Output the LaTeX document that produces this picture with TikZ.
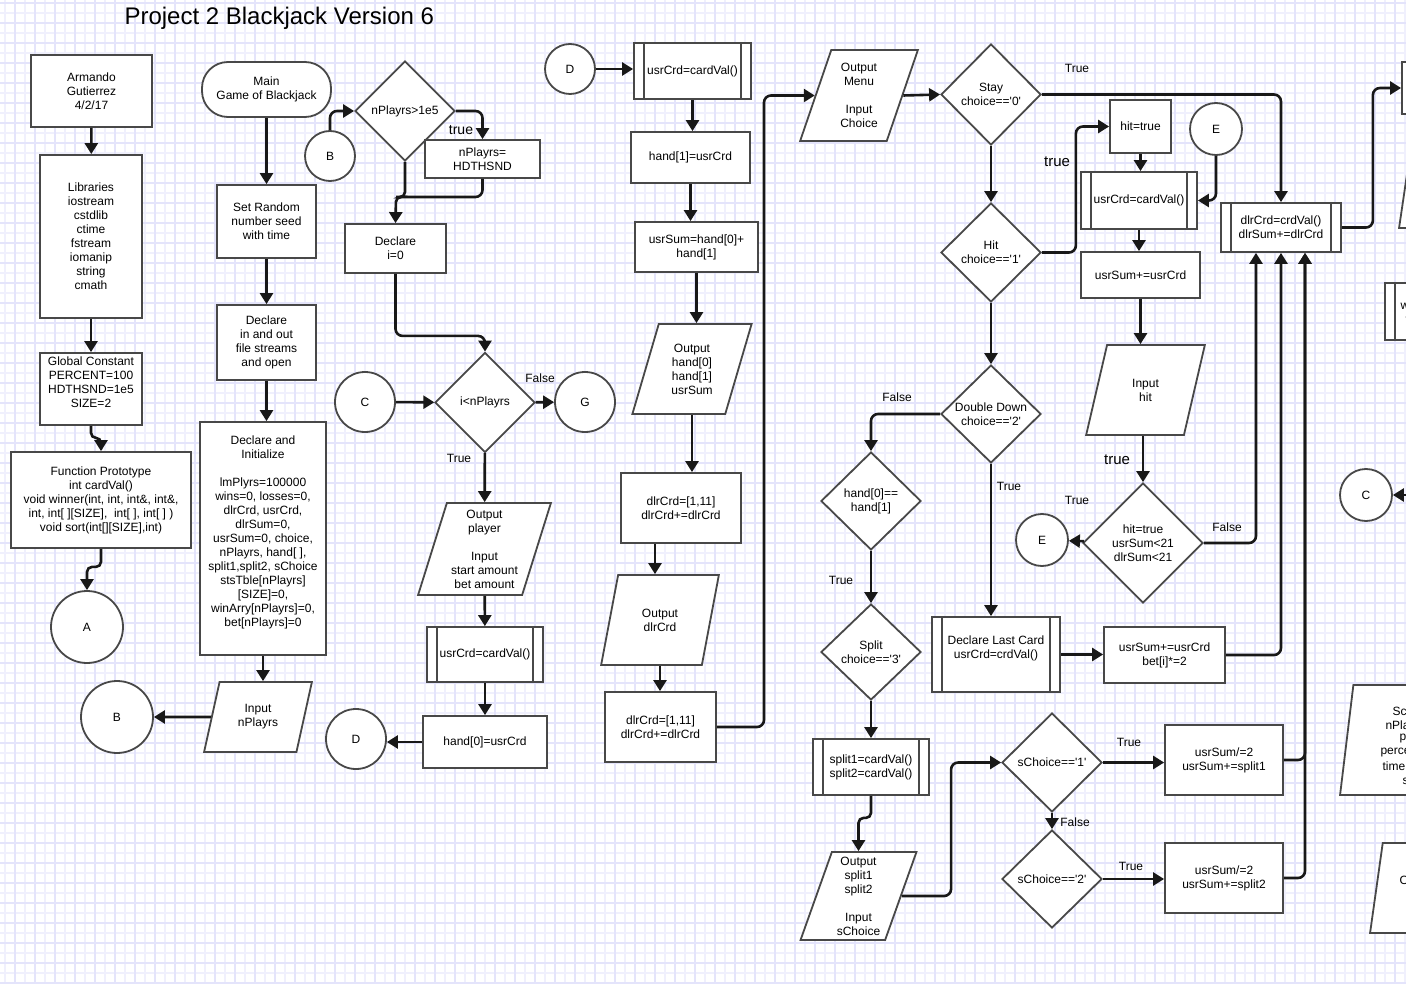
\documentclass[tikz,border=0pt]{standalone}
\usepackage{fontspec}
\setmainfont{Liberation Sans}
\usetikzlibrary{shapes.geometric,arrows.meta,calc}

\definecolor{gridc}{RGB}{228,228,251}
\definecolor{gridl}{RGB}{240,240,253}
\definecolor{edgec}{RGB}{72,72,72}
\definecolor{linec}{RGB}{24,24,24}
\newcommand{\sqt}{\textquotesingle}

\tikzset{
  every node/.style={font=\fontsize{12}{14}\selectfont, text=black},
  sz/.style 2 args={minimum width=#1pt, minimum height=#2pt},
  proc/.style={rectangle, draw=edgec, line width=1.8pt, fill=white, align=center, inner sep=0pt},
  subproc/.style={proc, path picture={
      \draw[edgec, line width=1.5pt]
        ([xshift=10pt]path picture bounding box.north west) -- ([xshift=10pt]path picture bounding box.south west)
        ([xshift=-10pt]path picture bounding box.north east) -- ([xshift=-10pt]path picture bounding box.south east);}},
  term/.style={proc, rounded corners=26pt},
  io/.style={trapezium, trapezium left angle=72, trapezium right angle=108, trapezium stretches=true,
      draw=edgec, line width=1.8pt, fill=white, align=center, inner sep=0pt},
  decision/.style={diamond, draw=edgec, line width=1.8pt, fill=white, align=center, inner sep=0pt},
  connector/.style={circle, draw=edgec, line width=1.8pt, fill=white, inner sep=0pt},
  flow/.style={draw=linec, line width=2.6pt, rounded corners=7pt},
  arr/.style={flow, -{Triangle[width=13pt,length=11pt]}},
  lab/.style={font=\fontsize{12}{14}\selectfont},
  biglab/.style={font=\fontsize{15}{17}\selectfont},
}

\begin{document}
\begin{tikzpicture}[x=1pt,y=-1pt]
\useasboundingbox (0,0) rectangle (1406,984);
\clip (0,0) rectangle (1406,984);
\fill[white] (0,0) rectangle (1406,984);
% background grid: faint lines every 10, slightly stronger every 20
\foreach \i in {5,25,...,1405} \draw[gridl, line width=1.3pt] (\i,0) -- (\i,984);
\foreach \j in {13,33,...,993} \draw[gridl, line width=1.3pt] (0,\j) -- (1406,\j);
\foreach \i in {15,35,...,1415} \draw[gridc, line width=1.3pt] (\i,0) -- (\i,984);
\foreach \j in {3,23,...,983} \draw[gridc, line width=1.3pt] (0,\j) -- (1406,\j);

\node[font=\fontsize{24}{28}\selectfont, anchor=west] (title) at (121,18) {Project 2 Blackjack Version 6};

% ---- program header column
\node[proc, sz={121}{72}] (armando) at (91.5,91) {Armando\\Gutierrez\\4/2/17};
\node[proc, sz={102}{163}] (libs) at (91,236.5) {Libraries\\iostream\\cstdlib\\ctime\\fstream\\iomanip\\string\\cmath};
\node[proc, sz={102}{72}] (glob) at (91,389) {Global Constant\\PERCENT=100\\HDTHSND=1e5\\SIZE=2\\\mbox{}};
\node[proc, sz={180}{96}] (proto) at (101,500) {Function Prototype\\int cardVal()\\void winner(int, int, int\&, int\&,\\int, int[ ][SIZE],~ int[ ], int[ ] )\\void sort(int[][SIZE],int)};
\node[connector, minimum size=72pt] (cA) at (87,627) {A};

% ---- main setup column
\node[term, sz={129}{55}] (mainT) at (266.5,89.5) {Main\\Game of Blackjack};
\node[proc, sz={99}{73}] (seed) at (266.5,221.5) {Set Random\\number seed\\with time};
\node[proc, sz={99}{75}] (streams) at (266.5,342.5) {Declare\\in and out\\file streams\\and open};
\node[proc, sz={126}{233}] (init) at (263,538.5) {Declare and\\Initialize\\[14pt]lmPlyrs=100000\\wins=0, losses=0,\\dlrCrd, usrCrd,\\dlrSum=0,\\usrSum=0, choice,\\nPlayrs, hand[ ],\\split1,split2, sChoice\\stsTble[nPlayrs]\\{}[SIZE]=0,\\winArry[nPlayrs]=0,\\bet[nPlayrs]=0\\\mbox{}};
\node[io, sz={108}{70}] (inNP) at (258,717) {Input\\nPlayrs};
\node[connector, minimum size=72pt] (cB1) at (117,717) {B};

% ---- player loop
\node[connector, minimum size=50pt] (cB2) at (330,156) {B};
\node[decision, sz={100}{100}] (dNP) at (405,111) {nPlayrs>1e5};
\node[proc, sz={115}{38}] (npBox) at (482.5,159) {nPlayrs=\\HDTHSND};
\node[proc, sz={101}{49}] (decl0) at (395.5,248.5) {Declare\\i=0};
\node[decision, sz={100}{100}] (dI) at (485,402.5) {i<nPlayrs};
\node[connector, minimum size=60pt] (cC1) at (365,402) {C};
\node[connector, minimum size=60pt] (cG) at (585,402) {G};
\node[io, sz={133}{92}] (outPl) at (484.5,549) {Output\\player\\[14pt]Input\\start amount\\bet amount};
\node[subproc, sz={116}{55}] (sub1) at (485,654.5) {usrCrd=cardVal()};
\node[proc, sz={124}{52}] (h0) at (485,742) {hand[0]=usrCrd};
\node[connector, minimum size=60pt] (cD1) at (356,739) {D};

% ---- dealing column
\node[connector, minimum size=50pt] (cD2) at (570,69) {D};
\node[subproc, sz={117}{56}] (sub2) at (692.5,71) {usrCrd=cardVal()};
\node[proc, sz={119}{51}] (h1) at (690.5,157.5) {hand[1]=usrCrd};
\node[proc, sz={123}{50}] (usum) at (696.5,247) {usrSum=hand[0]+\\hand[1]};
\node[io, sz={120}{90}] (outH) at (692,369) {Output\\hand[0]\\hand[1]\\usrSum};
\node[proc, sz={120}{70}] (dlr1) at (681,508) {dlrCrd=[1,11]\\dlrCrd+=dlrCrd};
\node[io, sz={118}{90}] (outD) at (660,620) {Output\\dlrCrd};
\node[proc, sz={111}{70}] (dlr2) at (660.5,727) {dlrCrd=[1,11]\\dlrCrd+=dlrCrd};

% ---- menu and choices
\node[io, sz={118}{91}] (outM) at (859,95.5) {Output\\Menu\\[14pt]Input\\Choice};
\node[decision, sz={100}{101}] (dStay) at (991,94.5) {Stay\\choice==\sqt0\sqt};
\node[decision, sz={100}{99}] (dHit) at (991,252.5) {Hit\\choice==\sqt1\sqt};
\node[decision, sz={100}{98}] (dDD) at (991,414) {Double Down\\choice==\sqt2\sqt};
\node[decision, sz={100}{98}] (dH01) at (871,501) {hand[0]==\\hand[1]};
\node[decision, sz={100}{96}] (dSplit) at (871,652) {Split\\choice==\sqt3\sqt};
\node[subproc, sz={116}{56}] (subSplit) at (871,767) {split1=cardVal()\\split2=cardVal()};
\node[io, sz={117}{88}] (outS) at (858.5,896) {Output\\split1\\split2\\[14pt]Input\\sChoice};
\node[subproc, sz={128}{75}] (subLast) at (996,654.5) {Declare Last Card\\usrCrd=crdVal()\\\mbox{}};
\node[proc, sz={121}{56}] (ubet) at (1164.5,655) {usrSum+=usrCrd\\bet[i]*=2};
\node[decision, sz={100}{99}] (dS1) at (1052,762.5) {sChoice==\sqt1\sqt};
\node[decision, sz={100}{98}] (dS2) at (1052,879) {sChoice==\sqt2\sqt};
\node[proc, sz={118}{70}] (us1) at (1224,760) {usrSum/=2\\usrSum+=split1};
\node[proc, sz={118}{70}] (us2) at (1224,878) {usrSum/=2\\usrSum+=split2};

% ---- hit loop
\node[proc, sz={61}{53}] (hitT) at (1140.5,126.5) {hit=true};
\node[subproc, sz={116}{57}] (subHit) at (1139,200.5) {usrCrd=cardVal()};
\node[connector, minimum size=52pt] (cE1) at (1216,129) {E};
\node[proc, sz={119}{46}] (usumHit) at (1140.5,275) {usrSum+=usrCrd};
\node[io, sz={119}{90}] (inHit) at (1145.5,390) {Input\\hit};
\node[decision, sz={120}{120}] (dHT) at (1143,543) {hit=true\\usrSum<21\\dlrSum<21};
\node[connector, minimum size=52pt] (cE2) at (1042,540) {E};
\node[subproc, sz={120}{49}] (subDlr) at (1281,227.5) {dlrCrd=crdVal()\\dlrSum+=dlrCrd};

% ---- shapes running off the right edge
\node[proc, sz={100}{52}] (boxTR) at (1452,88) {};
\node[io, sz={120}{86}] (parTR) at (1459,185) {\phantom{MM}};
\node[subproc, sz={120}{57}] (subTR) at (1445,311.5) {};
\node[anchor=west] (tw) at (1397,306) {w};
\node[anchor=west] (tv) at (1402,320) {v};
\node[connector, minimum size=52pt] (cC2) at (1366,495) {C};
\coordinate (cRin) at (1420,495);
\node[io, sz={126}{110}] (parScr) at (1403,740) {\phantom{MM}};
\node[anchor=west] (ts1) at (1389,711) {Scr};
\node[anchor=west] (ts2) at (1382,725) {nPla};
\node[anchor=west] (ts3) at (1396,739) {pe};
\node[anchor=west] (ts4) at (1377,753) {perce};
\node[anchor=west] (ts5) at (1379,767) {time,};
\node[anchor=west] (ts6) at (1399,781) {s};
\node[io, sz={120}{90}] (parO) at (1430,888) {\phantom{MM}};
\node[anchor=west] (tO) at (1396,880) {O};

% ---- branch labels
\node[font=\fontsize{14}{16}\selectfont] (lt1) at (461,130) {true};
\node[lab] (lf1) at (540,378) {False};
\node[lab] (lt2) at (459,458) {True};
\node[lab] (lt3) at (1077,68) {True};
\node[biglab] (lt4) at (1057,162) {true};
\node[lab] (lf2) at (897,397) {False};
\node[lab] (lt5) at (1009,486) {True};
\node[lab] (lt6) at (841,580) {True};
\node[lab] (lt7) at (1077,500) {True};
\node[lab] (lf3) at (1227,527) {False};
\node[biglab] (lt8) at (1117,460) {true};
\node[lab] (lt9) at (1129,742) {True};
\node[lab] (lf4) at (1075,822) {False};
\node[lab] (lt10) at (1131,866) {True};

% ---- connectors: header column
\draw[arr] (armando) -- (libs);
\draw[arr] (libs) -- (glob);
\draw[arr, rounded corners=5pt] (glob.south) -- ++(0,12) -| (proto.north);
\draw[arr, rounded corners=5pt] (proto.south) -- ++(0,18) -| (cA.north);

% ---- connectors: setup column
\draw[arr] (mainT) -- (seed);
\draw[arr] (seed) -- (streams);
\draw[arr] (streams.south) -- (streams.south |- init.north);
\draw[arr] (init.south) -- (init.south |- inNP.north);
\draw[arr] (inNP) -- (cB1);

% ---- connectors: player loop
\draw[arr] (cB2.north) |- (dNP.west);
\draw[arr] (dNP.east) -| (npBox.north);
\coordinate (j1) at (396,197);
\draw[arr, rounded corners=5pt] (dNP.south) |- (j1) -- (decl0.north);
\draw[flow] (npBox.south) |- (j1);
\draw[arr] (decl0.south) -- ++(0,62) -| (dI.north);
\draw[arr] (cC1) -- (dI);
\draw[arr] (dI) -- (cG);
\draw[arr] (dI) -- (outPl);
\draw[arr] (outPl) -- (sub1);
\draw[arr] (sub1) -- (h0);
\draw[arr] (h0.west) -- (h0.west -| cD1.east);

% ---- connectors: dealing column
\draw[arr] (cD2) -- (sub2.west |- cD2);
\draw[arr] (sub2.south) -- (sub2.south |- h1.north);
\draw[arr] (h1.south) -- (h1.south |- usum.north);
\draw[arr] (usum.south) -- (usum.south |- outH.north);
\draw[arr] (outH.south) -- (outH.south |- dlr1.north);
\coordinate (k1) at ($(outD.north)+(-5,0)$);
\draw[arr] (k1 |- dlr1.south) -- (k1);
\draw[arr] (outD.south) -- (outD.south |- dlr2.north);
\coordinate (v1) at (764,0);
\draw[arr] (dlr2.east) -| (v1 |- outM.west) -- (outM.west);

% ---- connectors: menu and choices
\draw[arr] (outM.east) -- (dStay.west);
\draw[arr] (dStay.east) -| (subDlr.north);
\draw[arr] (dStay) -- (dHit);
\draw[arr] (dHit.east) -- ++(34,0) |- (hitT.west);
\draw[arr] (dHit) -- (dDD);
\draw[arr] (dDD.west) -| (dH01.north);
\draw[arr] (dDD.south) -- (dDD.south |- subLast.north);
\draw[arr] (dH01) -- (dSplit);
\draw[arr] (dSplit) -- (subSplit);
\draw[arr, rounded corners=5pt] (subSplit.south) -- ++(0,22) -| (outS.north);
\draw[arr] (outS.east) -| ($(dS1.west)+(-50,0)$) -- (dS1.west);
\draw[arr] (subLast.east) -- (subLast.east -| ubet.west);
\draw[arr] (ubet.east) -| (subDlr.south);
\draw[arr] (dS1.east) -- (dS1.east -| us1.west);
\draw[arr] (dS1) -- (dS2);
\draw[arr] (dS2.east) -- (dS2.east -| us2.west);
\coordinate (v2) at ($(subDlr.south)+(24,0)$);
\draw[arr] (us1.east) -| (v2);
\draw[arr] (us2.east) -| (v2);
\coordinate (v3) at ($(subDlr.south)+(-25,0)$);
\draw[arr] (dHT.east) -| (v3);

% ---- connectors: hit loop
\draw[arr] (hitT.south) -- (hitT.south |- subHit.north);
\draw[arr] (subHit.south) -- (subHit.south |- usumHit.north);
\draw[arr] (usumHit.south) -- (usumHit.south |- inHit.north);
\draw[arr] (dHT.north |- inHit.south) -- (dHT.north);
\draw[arr] (cE1.south) |- (subHit.east);
\draw[arr] (dHT) -- (cE2);
\draw[arr] (subDlr.east) -- ++(31,0) |- (boxTR.west);
\draw[arr] (cRin) -- (cC2);
\end{tikzpicture}
\end{document}
